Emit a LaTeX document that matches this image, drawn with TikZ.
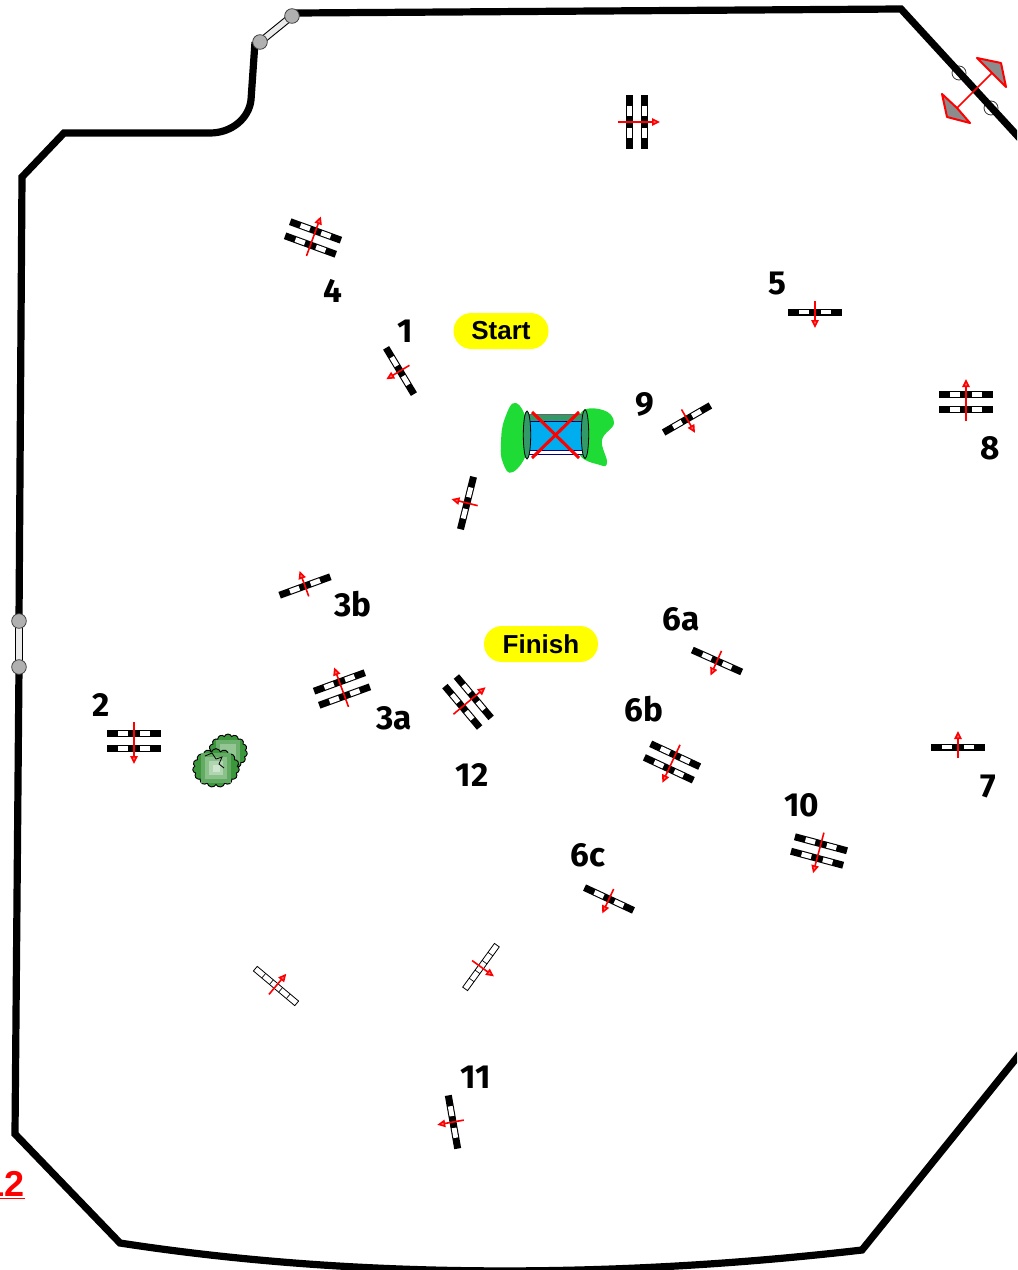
\documentclass[tikz,border=0pt]{standalone}
\usepackage{fontspec}
\setmainfont{Liberation Sans}
\newfontfamily\numfont{Fira Sans}
\usetikzlibrary{shapes,arrows.meta,positioning,calc}
\definecolor{courtgreen}{RGB}{30,219,54}
\definecolor{waterblue}{RGB}{0,174,239}
\definecolor{bandgreen}{RGB}{51,153,102}
\definecolor{postgrey}{RGB}{176,176,176}
\definecolor{bushgreen}{RGB}{60,150,60}
\definecolor{pillyellow}{RGB}{255,255,0}
\begin{document}
\begin{tikzpicture}[x=0.75pt,y=-0.75pt,
    border/.style={line width=5.4pt, black, miter limit=10},
    gatebar/.style={draw=black, line width=0.8pt, double=black!8, double distance=4pt},
    gatepost/.style={circle, draw=black!75, fill=postgrey, line width=0.6pt, inner sep=0pt, minimum size=11pt},
    pillow/.style={rectangle, rounded corners=13.4pt, fill=pillyellow, inner sep=0pt, align=center,
                font=\fontsize{19.5}{22}\selectfont\bfseries},
    num/.style={inner sep=0pt, font=\numfont\fontsize{25}{27}\selectfont\bfseries},
    jumparr/.style={-{Triangle[length=6pt,width=5.5pt,fill=red!55!white]}, red, line width=1.2pt},
    flagred/.style={draw=red, fill=black!45, line width=1.5pt, line join=round},
    bushcloud/.style={cloud, cloud puffs=15, cloud puff arc=140, draw=black, fill=bushgreen, line width=0.7pt, inner sep=0pt},
    pole/.pic={
        \fill[black] (-3.5,-27) rectangle (3.5,27);
        \fill[white] (-2.4,-16) rectangle (2.4,-6);
        \fill[white] (-2.4,6) rectangle (2.4,16);
    },
    single/.pic={
        \pic[transform shape] at (0,0) {pole};
        \draw[jumparr] (-11,0) -- (16,0);
    },
    oxer/.pic={
        \pic[transform shape] at (-7.5,0) {pole};
        \pic[transform shape] at (7.5,0) {pole};
        \draw[jumparr] (-19,0) -- (23,0);
    },
    whitepole/.pic={
        \draw[black, fill=white, line width=0.6pt] (-3,-27) rectangle (3,27);
        \draw[black, line width=0.5pt] (-3,-16) -- (3,-16) (-3,-6) -- (3,-6) (-3,6) -- (3,6) (-3,16) -- (3,16);
        \draw[jumparr] (-11,0) -- (16,0);
    }
]
\useasboundingbox (0,0) rectangle (1017,1270);
\clip (0,0) rectangle (1017,1270);

% arena fence
\coordinate (gatetopa) at (260,42);
\coordinate (gatetopb) at (292,16);
\coordinate (gateleftb) at (19,621);
\coordinate (gatelefta) at (19,667);
\draw[black!80, fill=white, line width=0.6pt] (959,73) circle (7);
\draw[black!80, fill=white, line width=0.6pt] (991,108) circle (7);
\draw[border] (gatetopb) -- (297,13) -- (901,9) -- (1035,155);
\draw[border] (1035,1035) -- (862,1250) .. controls (620,1278) and (360,1280) .. (120,1243)
    -- (15,1134) -- (gatelefta);
\draw[border] (gateleftb) -- (22,177) -- (64,133) -- (210,133)
    .. controls (232,133) and (249,118) .. (251,100) -- (255,42);
\draw[gatebar] (gatetopa) -- (gatetopb);
\draw[gatebar] (gatelefta) -- (gateleftb);
\node[gatepost] (posttopa) at (gatetopa) {};
\node[gatepost] (posttopb) at (gatetopb) {};
\node[gatepost] (postlefta) at (gatelefta) {};
\node[gatepost] (postleftb) at (gateleftb) {};

% start flags, top right
\draw[red, line width=1.3pt] (992,73) -- (957,108);
\draw[flagred] (977,58) -- (1001,63) -- (1006,87) -- (992,73) -- cycle;
\draw[flagred] (942,94) -- (947,117) -- (970,123) -- (957,108) -- cycle;

% jumps
\pic[rotate=0] at (637,122) {oxer};
\pic[rotate=70] at (313,238) {oxer};
\pic[rotate=211] at (400,371) {single};
\pic[rotate=270] at (815,312) {single};
\pic[rotate=90] at (966,402) {oxer};
\pic[rotate=-60] at (687,419) {single};
\pic[rotate=166] at (467,503) {single};
\pic[rotate=110] at (305,586) {single};
\pic[rotate=110] at (342,689) {oxer};
\pic[rotate=40] at (468,702) {oxer};
\pic[rotate=246] at (717,661) {single};
\pic[rotate=245] at (672,762) {oxer};
\pic[rotate=90] at (958,747) {single};
\pic[rotate=270] at (134,741) {oxer};
\pic[rotate=255] at (819,851) {oxer};
\pic[rotate=245] at (609,899) {single};
\pic[rotate=190] at (453,1122) {single};
\pic[rotate=50] at (276,986) {whitepole};
\pic[rotate=-36] at (481,967) {whitepole};

% water
\fill[courtgreen] plot[smooth cycle, tension=0.8] coordinates {(528,425) (516,403) (505,418) (501,442) (503,463) (513,472) (528,450)};
\fill[courtgreen] plot[smooth cycle, tension=0.7] coordinates {(580,414) (603,410) (614,423) (602,440) (607,462) (600,465) (578,452)};
\draw[black!60, fill=white, line width=0.7pt] (528,449) rectangle (583,454);
\draw[blue!50!black, line width=0.7pt] (528,454.5) -- (583,454.5);
\draw[black!60, fill=bandgreen, line width=0.7pt] (529,414) rectangle (582,421);
\draw[blue!50!black, fill=waterblue, line width=0.7pt] (528,421) rectangle (583,450);
\draw[black, fill=bandgreen, line width=0.6pt] (527,435) ellipse (3.7 and 24);
\draw[black, fill=bandgreen, line width=0.6pt] (585,434) ellipse (3.7 and 24.5);
\draw[red, line width=2.3pt] (532,412) -- (579,458);
\draw[red, line width=2.3pt] (579,412) -- (532,458);

% bush
\node[bushcloud, minimum width=29pt, minimum height=27pt] (bushtop) at (228,752) {};
\foreach \s/\c in {24/75,16/55}
    \fill[bushgreen!\c!white] ($(bushtop)+(-\s/2,-\s/2)$) rectangle ++(\s,\s);
\node[bushcloud, minimum width=35pt, minimum height=29pt] (bushlow) at (216,768) {};
\foreach \s/\c in {30/80,22/60,14/40,7/25}
    \fill[bushgreen!\c!white] ($(bushlow)+(-\s/2,-\s/2)$) rectangle ++(\s,\s);
\draw[black, line width=0.6pt] (205,756) -- (212,753) -- (216,759) -- (222,757) -- (219,764) -- (224,768);

% pills
\node[pillow, minimum width=71.25pt, minimum height=27pt] (startpill) at (501,331) {Start};
\node[pillow, minimum width=85.5pt, minimum height=27pt] (finishpill) at (541,644) {Finish};

% numbers
\node[num] (lab4) at (333,291) {4};
\node[num] (lab1) at (405,331) {1};
\node[num] (lab5) at (777,284) {5};
\node[num] (lab9) at (645,404) {9};
\node[num] (lab8) at (990,448) {8};
\node[num] (lab3b) at (353,604) {3b};
\node[num] (lab6a) at (681,619) {6a};
\node[num] (lab2) at (101,705) {2};
\node[num] (lab3a) at (394,718) {3a};
\node[num] (lab6b) at (644,709) {6b};
\node[num] (lab12) at (472,775) {12};
\node[num] (lab7) at (988,786) {7};
\node[num] (lab10) at (802,805) {10};
\node[num] (lab6c) at (588,855) {6c};
\node[num] (lab11) at (476,1077) {11};
\node[inner sep=0pt, anchor=east, red, font=\fontsize{27}{29}\selectfont\bfseries] (labred) at (25,1185) {\underline{12}};
\end{tikzpicture}
\end{document}
